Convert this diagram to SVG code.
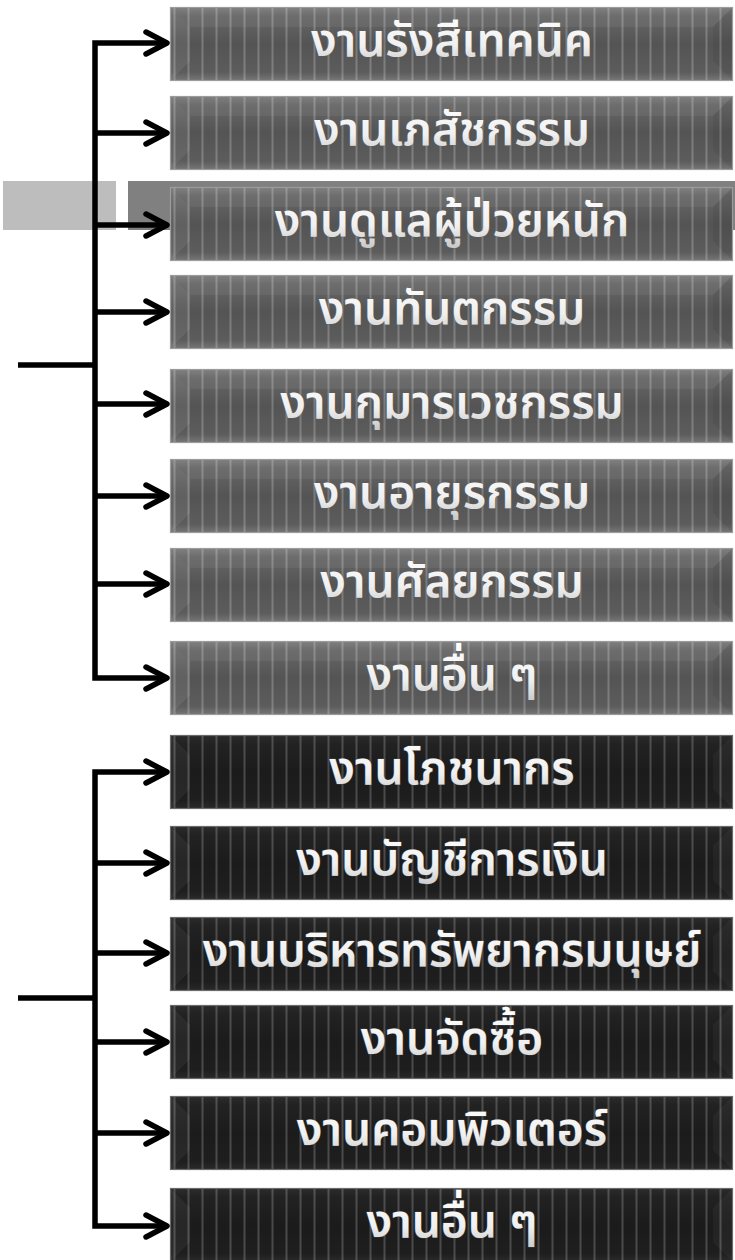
<svg xmlns="http://www.w3.org/2000/svg" xmlns:xlink="http://www.w3.org/1999/xlink" width="735" height="1260" viewBox="0 0 735 1260">
<style>
.lbl{font-family:"Noto Sans Thai","Noto Sans Thai UI","Loma","Garuda","Tlwg Typo","Noto Sans",sans-serif;font-weight:600;font-size:46px;text-anchor:middle;fill:url(#txt);stroke:#606060;stroke-width:0.6;paint-order:stroke}
.conn{fill:none;stroke:#000;stroke-width:5.5;stroke-linejoin:miter}
.head{fill:none;stroke:#000;stroke-width:5.5;stroke-linecap:round;stroke-linejoin:round}
</style>
<defs>
<linearGradient id="txt" x1="0" y1="0" x2="0" y2="1">
<stop offset="0" stop-color="#ffffff"/><stop offset="0.55" stop-color="#f0f0f0"/><stop offset="1" stop-color="#b8b8b8"/>
</linearGradient>
<linearGradient id="stripeG" x1="0" y1="0" x2="1" y2="0">
<stop offset="0" stop-color="#fff" stop-opacity="0"/><stop offset="0.5" stop-color="#fff" stop-opacity="1"/><stop offset="1" stop-color="#fff" stop-opacity="0"/>
</linearGradient>
<pattern id="stripes" patternUnits="userSpaceOnUse" x="0" y="0" width="14" height="10">
<rect x="2.5" y="0" width="4" height="10" fill="url(#stripeG)"/>
</pattern>
<linearGradient id="shadeUp" x1="0" y1="0" x2="0" y2="1">
<stop offset="0" stop-color="#7a7a7a"/><stop offset="0.12" stop-color="#666"/><stop offset="0.5" stop-color="#545454"/><stop offset="0.88" stop-color="#5c5c5c"/><stop offset="1" stop-color="#777"/>
</linearGradient>
<linearGradient id="shadeDn" x1="0" y1="0" x2="0" y2="1">
<stop offset="0" stop-color="#2c2c2c"/><stop offset="0.12" stop-color="#222"/><stop offset="0.5" stop-color="#1b1b1b"/><stop offset="0.88" stop-color="#1e1e1e"/><stop offset="1" stop-color="#2a2a2a"/>
</linearGradient>
<g id="boxUp">
<rect x="0" y="0" width="563" height="74" fill="url(#shadeUp)"/>
<rect x="0" y="0" width="563" height="74" fill="url(#stripes)" opacity="0.22"/>
<polygon points="0,0 20,20 543,20 563,0" fill="#fff" opacity="0.05"/>
<polygon points="0,0 20,20 20,54 0,74" fill="#fff" opacity="0.07"/>
<polygon points="563,0 543,20 543,54 563,74" fill="#000" opacity="0.06"/>
<rect x="0.5" y="0.5" width="562" height="73" fill="none" stroke="#9c9c9c" stroke-width="1.2"/>
</g>
<g id="boxDn">
<rect x="0" y="0" width="563" height="74" fill="url(#shadeDn)"/>
<rect x="0" y="0" width="563" height="74" fill="url(#stripes)" opacity="0.2"/>
<polygon points="0,0 20,20 20,54 0,74" fill="#fff" opacity="0.05"/>
<polygon points="563,0 543,20 543,54 563,74" fill="#fff" opacity="0.04"/>
<rect x="0.5" y="0.5" width="562" height="73" fill="none" stroke="#6a6a6a" stroke-width="1.2"/>
</g>
</defs>
<rect x="0" y="0" width="735" height="1260" fill="#fff"/>
<g id="decor">
<rect x="3" y="181" width="113" height="49" fill="#bdbdbd"/>
<rect x="128" y="181" width="607" height="49" fill="#808080"/>
</g>
<g id="n1"><use xlink:href="#boxUp" x="170" y="7"/><text class="lbl" x="452" y="56">งานรังสีเทคนิค</text></g>
<g id="n2"><use xlink:href="#boxUp" x="170" y="96"/><text class="lbl" x="452" y="145">งานเภสัชกรรม</text></g>
<g id="n3"><use xlink:href="#boxUp" x="170" y="187"/><text class="lbl" x="452" y="236">งานดูแลผู้ป่วยหนัก</text></g>
<g id="n4"><use xlink:href="#boxUp" x="170" y="275"/><text class="lbl" x="452" y="324">งานทันตกรรม</text></g>
<g id="n5"><use xlink:href="#boxUp" x="170" y="369"/><text class="lbl" x="452" y="418">งานกุมารเวชกรรม</text></g>
<g id="n6"><use xlink:href="#boxUp" x="170" y="459"/><text class="lbl" x="452" y="508">งานอายุรกรรม</text></g>
<g id="n7"><use xlink:href="#boxUp" x="170" y="548"/><text class="lbl" x="452" y="597">งานศัลยกรรม</text></g>
<g id="n8"><use xlink:href="#boxUp" x="170" y="641"/><text class="lbl" x="452" y="690">งานอื่น ๆ</text></g>
<g id="n9"><use xlink:href="#boxDn" x="170" y="735"/><text class="lbl" x="452" y="784">งานโภชนากร</text></g>
<g id="n10"><use xlink:href="#boxDn" x="170" y="826"/><text class="lbl" x="452" y="875">งานบัญชีการเงิน</text></g>
<g id="n11"><use xlink:href="#boxDn" x="170" y="917"/><text class="lbl" x="452" y="966">งานบริหารทรัพยากรมนุษย์</text></g>
<g id="n12"><use xlink:href="#boxDn" x="170" y="1005"/><text class="lbl" x="452" y="1054">งานจัดซื้อ</text></g>
<g id="n13"><use xlink:href="#boxDn" x="170" y="1096"/><text class="lbl" x="452" y="1145">งานคอมพิวเตอร์</text></g>
<g id="n14"><use xlink:href="#boxDn" x="170" y="1188"/><text class="lbl" x="452" y="1237">งานอื่น ๆ</text></g>
<g id="connectors">
<path class="conn" d="M18,365 H95"/>
<path class="conn" d="M166,43 H95 V678 H166"/>
<path class="conn" d="M95,133 H166 M95,225 H166 M95,312 H166 M95,404 H166 M95,496 H166 M95,584 H166"/>
<path class="conn" d="M18,998 H95"/>
<path class="conn" d="M166,772 H95 V1226 H166"/>
<path class="conn" d="M95,863 H166 M95,953 H166 M95,1042 H166 M95,1133 H166"/>
<path class="head" d="M146,32 L167,43 L146,54 M146,122 L167,133 L146,144 M146,214 L167,225 L146,236 M146,301 L167,312 L146,323 M146,393 L167,404 L146,415 M146,485 L167,496 L146,507 M146,573 L167,584 L146,595 M146,667 L167,678 L146,689"/>
<path class="head" d="M146,761 L167,772 L146,783 M146,852 L167,863 L146,874 M146,942 L167,953 L146,964 M146,1031 L167,1042 L146,1053 M146,1122 L167,1133 L146,1144 M146,1215 L167,1226 L146,1237"/>
</g>
</svg>
